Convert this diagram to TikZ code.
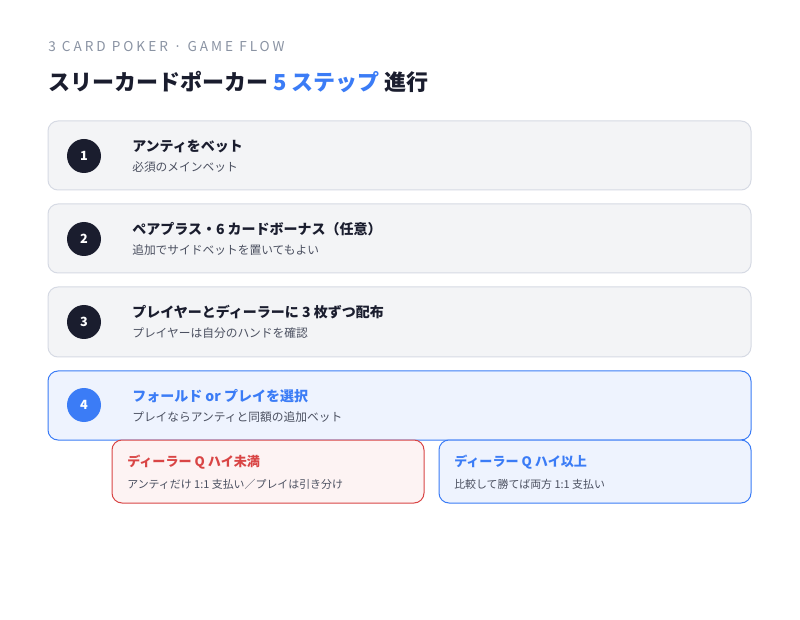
\documentclass[tikz,border=0pt]{standalone}
\usepackage{fontspec}
\setmainfont{Noto Sans CJK JP}
\usetikzlibrary{positioning}
\definecolor{ink}{HTML}{1A1D2E}
\definecolor{mute}{HTML}{4B5060}
\definecolor{cap}{HTML}{8A93A3}
\definecolor{accent}{HTML}{3B7CF6}
\definecolor{warn}{HTML}{D94545}
\definecolor{cardfill}{HTML}{F3F4F6}
\definecolor{cardline}{HTML}{D6DAE4}
\definecolor{activefill}{HTML}{EEF3FE}
\definecolor{warnfill}{HTML}{FDF3F3}
\tikzset{
  card/.style={draw=cardline,fill=cardfill,line width=0.75pt,rounded corners=7.5pt},
  activecard/.style={card,draw=accent,fill=activefill},
  branchcard/.style={card,draw=accent,fill=activefill},
  warncard/.style={card,draw=warn,fill=warnfill},
  badge/.style={circle,fill=ink,text=white,minimum size=25.5pt,inner sep=0pt,font=\fontsize{9.5pt}{11pt}\selectfont\bfseries},
  steptitle/.style={anchor=west,inner sep=0pt,text=ink,font=\fontsize{10.5pt}{12pt}\selectfont\bfseries},
  stepnote/.style={anchor=west,inner sep=0pt,text=mute,font=\fontsize{8.8pt}{10pt}\selectfont},
  branchtitle/.style={anchor=west,inner sep=0pt,font=\fontsize{9.8pt}{11pt}\selectfont\bfseries},
  branchnote/.style={anchor=west,inner sep=0pt,text=mute,font=\fontsize{8.2pt}{10pt}\selectfont}
}
\begin{document}
\begin{tikzpicture}[x=0.75pt,y=-0.75pt]
		\useasboundingbox[fill=white] (0,0) rectangle (800,620);
		\node[anchor=west,inner sep=0pt,text=cap,font=\fontsize{10.2pt}{12pt}\selectfont\addfontfeature{LetterSpace=22}] (kicker) at (48,47) {3 CARD POKER · GAME FLOW};
		\node[anchor=west,inner sep=0pt,text=ink,font=\fontsize{16.5pt}{19pt}\selectfont\bfseries] (heading) at (48,82) {スリーカードポーカー \textcolor{accent}{5 ステップ} 進行};
		% step cards
		\draw[card] (48,121) rectangle (751,190);
		\draw[card] (48,204) rectangle (751,273);
		\draw[card] (48,287) rectangle (751,357);
		\draw[activecard] (48,371) rectangle (751,440);
		\node[badge] (b1) at (84,156) {1};
		\node[badge] (b2) at (84,239) {2};
		\node[badge] (b3) at (84,322) {3};
		\node[badge,fill=accent] (b4) at (84,405) {4};
		\node[steptitle] (t1) at (132,146) {アンティをベット};
		\node[stepnote] (n1) at (132,167) {必須のメインベット};
		\node[steptitle] (t2) at (132,229) {ペアプラス・6 カードボーナス（任意）};
		\node[stepnote] (n2) at (132,250) {追加でサイドベットを置いてもよい};
		\node[steptitle] (t3) at (132,312) {プレイヤーとディーラーに 3 枚ずつ配布};
		\node[stepnote] (n3) at (132,333) {プレイヤーは自分のハンドを確認};
		\node[steptitle,text=accent] (t4) at (132,396) {フォールド or プレイを選択};
		\node[stepnote] (n4) at (132,417) {プレイならアンティと同額の追加ベット};
		% outcomes
		\draw[warncard] (112,440) rectangle (424,503);
		\draw[branchcard] (439,440) rectangle (751,503);
		\node[branchtitle,text=warn] (lo) at (127,462) {ディーラー Q ハイ未満};
		\node[branchnote] (lonote) at (127,484) {アンティだけ 1:1 支払い／プレイは引き分け};
		\node[branchtitle,text=accent] (hi) at (454,462) {ディーラー Q ハイ以上};
		\node[branchnote] (hinote) at (454,484) {比較して勝てば両方 1:1 支払い};
	\end{tikzpicture}
\end{document}
